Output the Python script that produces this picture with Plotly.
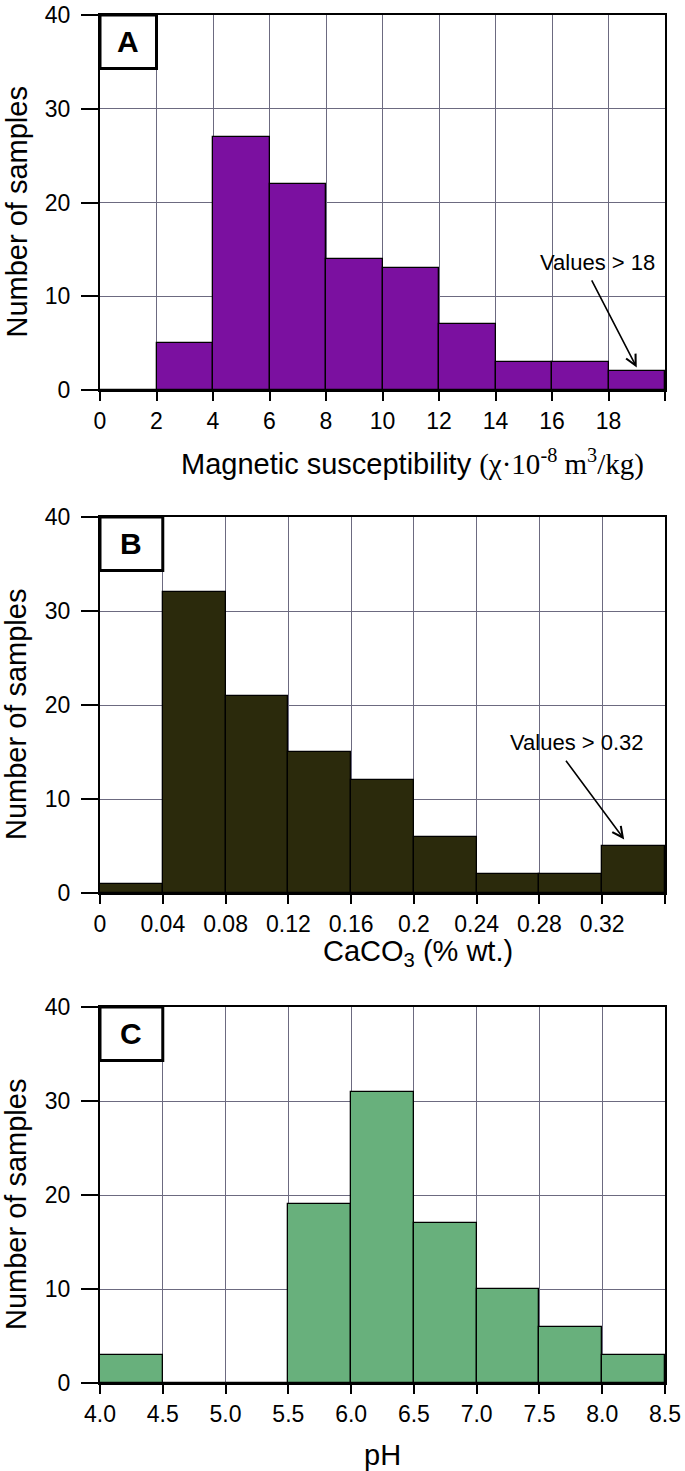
import plotly.graph_objects as go
from plotly.subplots import make_subplots

# --- data ---
mag_edges = [0, 2, 4, 6, 8, 10, 12, 14, 16, 18, 20]
mag_counts = [0, 5, 27, 22, 14, 13, 7, 3, 3, 2]

caco3_edges = [0, 0.04, 0.08, 0.12, 0.16, 0.20, 0.24, 0.28, 0.32, 0.36]
caco3_counts = [1, 32, 21, 15, 12, 6, 2, 2, 5]

ph_edges = [4.0, 4.5, 5.0, 5.5, 6.0, 6.5, 7.0, 7.5, 8.0, 8.5]
ph_counts = [3, 0, 0, 19, 31, 17, 10, 6, 3]

mag_ticktext = ["0", "2", "4", "6", "8", "10", "12", "14", "16", "18", ""]
caco3_ticktext = ["0", "0.04", "0.08", "0.12", "0.16", "0.2", "0.24", "0.28", "0.32", ""]
ph_ticktext = ["4.0", "4.5", "5.0", "5.5", "6.0", "6.5", "7.0", "7.5", "8.0", "8.5"]

W, H = 685, 1471
L, R = 100, 665
FONT = "Liberation Sans, Arial, sans-serif"
SERIF = "Liberation Serif, Times New Roman, serif"

# pixel geometry of each panel (top/bottom of plot area, x-title centre)
panels = [
    dict(edges=mag_edges, counts=mag_counts, ticktext=mag_ticktext, color="#7b10a0",
         label="A", top=15, bottom=390, tx=412, ty=463,
         title="Magnetic susceptibility <span style='font-family:%s'>(χ·10<sup>-8</sup> m<sup>3</sup>/kg)</span>" % SERIF),
    dict(edges=caco3_edges, counts=caco3_counts, ticktext=caco3_ticktext, color="#2b2a0c",
         label="B", top=517, bottom=893, tx=418, ty=953,
         title="CaCO<sub>3</sub> (% wt.)"),
    dict(edges=ph_edges, counts=ph_counts, ticktext=ph_ticktext, color="#68b07c",
         label="C", top=1007, bottom=1383, tx=382, ty=1455,
         title="pH"),
]

fig = make_subplots(rows=3, cols=1)

for i, p in enumerate(panels, start=1):
    e = p["edges"]
    centers = [(a + b) / 2 for a, b in zip(e[:-1], e[1:])]
    widths = [b - a for a, b in zip(e[:-1], e[1:])]
    fig.add_trace(go.Bar(x=centers, y=p["counts"], width=widths,
                         marker=dict(color=p["color"], line=dict(color="black", width=1.3)),
                         showlegend=False, hoverinfo="skip"), row=i, col=1)
    dom = [1 - p["bottom"] / H, 1 - p["top"] / H]
    fig.update_xaxes(range=[e[0], e[-1]], tickvals=e, ticktext=p["ticktext"],
                     showgrid=True, gridcolor="#6c6a80", gridwidth=1,
                     showline=True, linecolor="black", linewidth=2, mirror=True,
                     ticks="outside", ticklen=9, tickcolor="black", tickwidth=1.5,
                     tickfont=dict(size=23, color="black", family=FONT),
                     automargin=False, zeroline=False, row=i, col=1)
    fig.update_yaxes(range=[0, 40], tickvals=[0, 10, 20, 30, 40], domain=dom,
                     showgrid=True, gridcolor="#6c6a80", gridwidth=1,
                     showline=True, linecolor="black", linewidth=2, mirror=True,
                     ticks="outside", ticklen=17, tickcolor="black", tickwidth=1.5,
                     tickfont=dict(size=23, color="black", family=FONT),
                     ticklabelstandoff=6,
                     automargin=False, zeroline=False, row=i, col=1)
    xr = "x" if i == 1 else "x%d" % i
    yr = "y" if i == 1 else "y%d" % i
    # panel label box
    fig.add_shape(type="rect", xref=xr, yref=yr, x0=e[0], x1=e[1], y0=34.3, y1=40,
                  fillcolor="white", line=dict(color="black", width=3), layer="above")
    fig.add_annotation(xref=xr, yref=yr, x=(e[0] + e[1]) / 2, y=37.15, text="<b>%s</b>" % p["label"],
                       showarrow=False, xanchor="center", yanchor="middle",
                       font=dict(size=30, color="black", family=FONT))
    # y title
    fig.add_annotation(xref="paper", yref="paper", x=(16 - L) / (R - L),
                       y=1 - ((p["top"] + p["bottom"]) / 2 + 10) / H, textangle=-90,
                       xanchor="center", yanchor="middle",
                       text="Number of samples", showarrow=False,
                       font=dict(size=29, color="black", family=FONT))
    # x title
    fig.add_annotation(xref="paper", yref="paper", x=(p["tx"] - L) / (R - L), y=1 - p["ty"] / H,
                       xanchor="center", yanchor="middle",
                       text=p["title"], showarrow=False,
                       font=dict(size=29, color="black", family=FONT))

# "Values >" arrows
fig.add_annotation(xref="x", yref="y", x=19.0, y=2.4, ax=17.3, ay=12.3, axref="x", ayref="y",
                   showarrow=True, arrowhead=5, arrowsize=1.3, arrowwidth=1.6, arrowcolor="black")
fig.add_annotation(xref="x", yref="y", x=17.6, y=13.65, text="Values > 18", showarrow=False,
                   xanchor="center", yanchor="middle",
                   font=dict(size=22, color="black", family=FONT))
fig.add_annotation(xref="x2", yref="y2", x=0.334, y=5.7, ax=0.295, ay=14.5, axref="x2", ayref="y2",
                   showarrow=True, arrowhead=5, arrowsize=1.3, arrowwidth=1.6, arrowcolor="black")
fig.add_annotation(xref="x2", yref="y2", x=0.304, y=16.0, text="Values > 0.32", showarrow=False,
                   xanchor="center", yanchor="middle",
                   font=dict(size=22, color="black", family=FONT))

fig.update_layout(width=W, height=H, margin=dict(l=L, r=W - R, t=0, b=0),
                  paper_bgcolor="white", plot_bgcolor="white", bargap=0,
                  font=dict(family=FONT, color="black"))

# drop the browser's default 8px body margin so the figure fills the window exactly
fig.write_html("out.html", config={"displayModeBar": False},
               post_script="document.body.style.margin='0';document.body.style.overflow='hidden';")
